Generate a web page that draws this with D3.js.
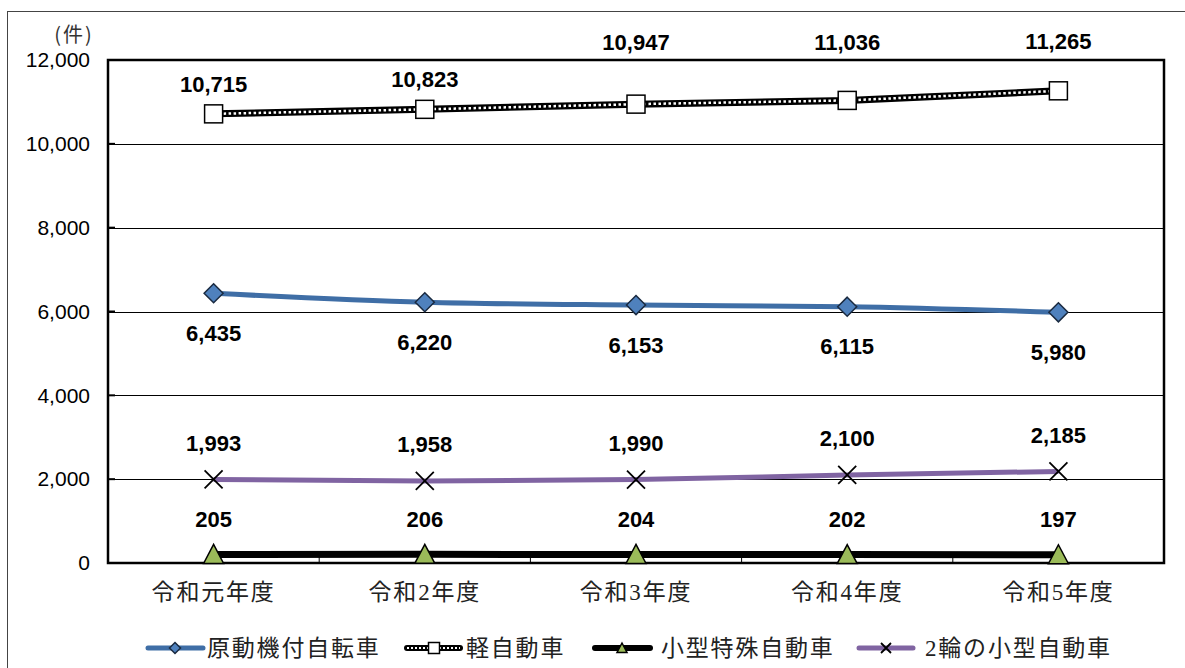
<!DOCTYPE html>
<html>
<head>
<meta charset=utf-8>
<style>
body {margin: 0; background: #fff;}
svg {display: block;}
.ytick {font-family: 'Liberation Sans', 'Noto Sans CJK JP', sans-serif; font-size: 21px; fill: #000;}
.xtick, .legend text {font-family: 'Liberation Serif', 'Noto Sans CJK JP', serif; font-size: 23px; fill: #222; letter-spacing: 1.8px;}
.dlabel {font-family: 'Liberation Sans', sans-serif; font-size: 22px; font-weight: bold; fill: #000;}
.unit {font-family: 'Noto Sans CJK JP', sans-serif; font-size: 20px; fill: #333; letter-spacing: 2px;}
</style>
</head>
<body>
<svg id=chart width=1185 height=668></svg>

<script src='https://cdn.jsdelivr.net/npm/d3@7/dist/d3.min.js'></script>
<script>
//data
var categories = ['令和元年度', '令和2年度', '令和3年度', '令和4年度', '令和5年度'];
var gentsuki = [6435, 6220, 6153, 6115, 5980];     //原動機付自転車
var keiJidosha = [10715, 10823, 10947, 11036, 11265]; //軽自動車
var kogataTokushu = [205, 206, 204, 202, 197];     //小型特殊自動車
var nirin = [1993, 1958, 1990, 2100, 2185];        //2輪の小型自動車
var yTicks = [0, 2000, 4000, 6000, 8000, 10000, 12000];
var seriesNames = ['原動機付自転車', '軽自動車', '小型特殊自動車', '2輪の小型自動車'];

//layout
var margin = {top: 60, left: 108, right: 21, bottom: 105};
var W = 1185, H = 668;
var width = W - margin.left - margin.right;
var height = H - margin.top - margin.bottom;

var svg = d3.select('#chart');

//outer frame
svg.append('rect')
    .attr('x', 7.5).attr('y', 11.5)
    .attr('width', W + 10).attr('height', H + 10)
    .attr('fill', 'none').attr('stroke', '#444').attr('stroke-width', 1);

var g = svg.append('g')
    .attr('transform', 'translate(' + margin.left + ',' + margin.top + ')');

var x = d3.scaleBand().domain(categories).range([0, width]);
var y = d3.scaleLinear().domain([0, 12000]).range([height, 0]);
function cx(i){ return x(categories[i]) + x.bandwidth() / 2; }

//gridlines
g.selectAll('.grid')
  .data(yTicks.slice(1))
  .enter().append('line')
    .attr('x1', 0).attr('x2', width)
    .attr('y1', function(d){ return Math.round(y(d)) + 0.5; })
    .attr('y2', function(d){ return Math.round(y(d)) + 0.5; })
    .attr('stroke', '#000').attr('stroke-width', 1);

//y axis
var yAxis = g.append('g')
    .call(d3.axisLeft(y).tickValues(yTicks).tickSize(0).tickPadding(18)
      .tickFormat(d3.format(',')));
yAxis.select('.domain').remove();
yAxis.selectAll('text').attr('class', 'ytick').attr('font-size', null).attr('font-family', null);
//inner tick marks
g.selectAll('.ytk')
  .data(yTicks)
  .enter().append('line')
    .attr('x1', 0).attr('x2', 7)
    .attr('y1', function(d){ return y(d); }).attr('y2', function(d){ return y(d); })
    .attr('stroke', '#000').attr('stroke-width', 2);

//x axis
var xAxis = g.append('g')
    .attr('transform', 'translate(0,' + height + ')')
    .call(d3.axisBottom(x).tickSize(0).tickPadding(21));
xAxis.select('.domain').remove();
xAxis.selectAll('text').attr('class', 'xtick').attr('font-size', null).attr('font-family', null);
g.selectAll('.xtk')
  .data(categories.slice(1))
  .enter().append('line')
    .attr('x1', function(d){ return x(d); }).attr('x2', function(d){ return x(d); })
    .attr('y1', height).attr('y2', height - 8)
    .attr('stroke', '#000').attr('stroke-width', 1);

//unit
svg.append('text')
    .attr('class', 'unit')
    .attr('x', 74).attr('y', 33)
    .attr('text-anchor', 'middle').attr('dominant-baseline', 'central')
    .text('(件)');

//plot frame
g.append('rect')
    .attr('width', width).attr('height', height)
    .attr('fill', 'none').attr('stroke', '#000').attr('stroke-width', 2.5);

var line = function(vals, curve){
  return d3.line()
      .x(function(d, i){ return cx(i); })
      .y(function(d){ return y(d); })
      .curve(curve || d3.curveLinear)(vals);
};

//series: 小型特殊自動車
g.append('path').attr('d', line(kogataTokushu))
    .attr('fill', 'none').attr('stroke', '#000').attr('stroke-width', 7);
//series: 2輪の小型自動車
g.append('path').attr('d', line(nirin, d3.curveMonotoneX))
    .attr('fill', 'none').attr('stroke', '#8064a2').attr('stroke-width', 5);
//series: 原動機付自転車
g.append('path').attr('d', line(gentsuki, d3.curveMonotoneX))
    .attr('fill', 'none').attr('stroke', '#3f6ea6').attr('stroke-width', 5);
//series: 軽自動車 (dotted)
g.append('path').attr('d', line(keiJidosha))
    .attr('fill', 'none').attr('stroke', '#000').attr('stroke-width', 7);
g.append('path').attr('d', line(keiJidosha))
    .attr('fill', 'none').attr('stroke', '#fff').attr('stroke-width', 2.5)
    .attr('stroke-dasharray', '2.5,2.5');

//markers
function diamond(sel, px, py, s){
  sel.append('path')
      .attr('d', 'M' + px + ',' + (py - s) + 'L' + (px + s) + ',' + py + 'L' + px + ',' + (py + s) + 'L' + (px - s) + ',' + py + 'Z')
      .attr('fill', '#4f81bd').attr('stroke', '#1a2a40').attr('stroke-width', 1.5);
}
function square(sel, px, py, s){
  sel.append('rect')
      .attr('x', px - s).attr('y', py - s).attr('width', 2 * s).attr('height', 2 * s)
      .attr('fill', '#fff').attr('stroke', '#000').attr('stroke-width', 1.5);
}
function triangle(sel, px, py, s){
  sel.append('path')
      .attr('d', 'M' + px + ',' + (py - s) + 'L' + (px + s) + ',' + (py + s * 0.9) + 'L' + (px - s) + ',' + (py + s * 0.9) + 'Z')
      .attr('fill', '#9bbb59').attr('stroke', '#000').attr('stroke-width', 1.5);
}
function cross(sel, px, py, s){
  sel.append('path')
      .attr('d', 'M' + (px - s) + ',' + (py - s) + 'L' + (px + s) + ',' + (py + s) + 'M' + (px + s) + ',' + (py - s) + 'L' + (px - s) + ',' + (py + s))
      .attr('stroke', '#000').attr('stroke-width', 1.8).attr('fill', 'none');
}

var mk = g.append('g');
gentsuki.forEach(function(v, i){ diamond(mk, cx(i), y(v), 9.5); });
keiJidosha.forEach(function(v, i){ square(mk, cx(i), y(v), 9); });
kogataTokushu.forEach(function(v, i){ triangle(mk, cx(i), y(v), 10); });
nirin.forEach(function(v, i){ cross(mk, cx(i), y(v), 9); });

//data labels
var fmt = d3.format(',');
var keiDy = [-29, -30, -62, -58, -49];
function labels(vals, dy){
  g.append('g').selectAll('text')
    .data(vals)
    .enter().append('text')
      .attr('class', 'dlabel')
      .attr('text-anchor', 'middle').attr('dominant-baseline', 'central')
      .attr('x', function(d, i){ return cx(i); })
      .attr('y', function(d, i){ return y(d) + (Array.isArray(dy) ? dy[i] : dy); })
      .text(function(d){ return fmt(d); });
}
labels(gentsuki, 40);
labels(keiJidosha, keiDy);
labels(kogataTokushu, -35);
labels(nirin, -36);

//legend
var ly = 648;
var legend = svg.append('g').attr('class', 'legend');
var legendX = [148, 407, 595, 859];
var textX = [207, 466, 661, 925];

legend.append('line').attr('x1', legendX[0]).attr('x2', legendX[0] + 55).attr('y1', ly).attr('y2', ly)
    .attr('stroke', '#3f6ea6').attr('stroke-width', 5).attr('stroke-linecap', 'round');
diamond(legend, legendX[0] + 27, ly, 5.5);

legend.append('line').attr('x1', legendX[1]).attr('x2', legendX[1] + 53).attr('y1', ly).attr('y2', ly)
    .attr('stroke', '#000').attr('stroke-width', 6).attr('stroke-linecap', 'round');
legend.append('line').attr('x1', legendX[1]).attr('x2', legendX[1] + 53).attr('y1', ly).attr('y2', ly)
    .attr('stroke', '#fff').attr('stroke-width', 2).attr('stroke-dasharray', '2,2');
square(legend, legendX[1] + 27, ly, 5.5);

legend.append('line').attr('x1', legendX[2]).attr('x2', legendX[2] + 55).attr('y1', ly).attr('y2', ly)
    .attr('stroke', '#000').attr('stroke-width', 6).attr('stroke-linecap', 'round');
triangle(legend, legendX[2] + 27, ly, 5);

legend.append('line').attr('x1', legendX[3]).attr('x2', legendX[3] + 54).attr('y1', ly).attr('y2', ly)
    .attr('stroke', '#8064a2').attr('stroke-width', 5).attr('stroke-linecap', 'round');
cross(legend, legendX[3] + 27, ly, 5);

legend.selectAll('text')
  .data(seriesNames)
  .enter().append('text')
    .attr('x', function(d, i){ return textX[i]; })
    .attr('y', ly)
    .attr('dominant-baseline', 'central')
    .text(function(d){ return d; });
</script>
</body>
</html>
